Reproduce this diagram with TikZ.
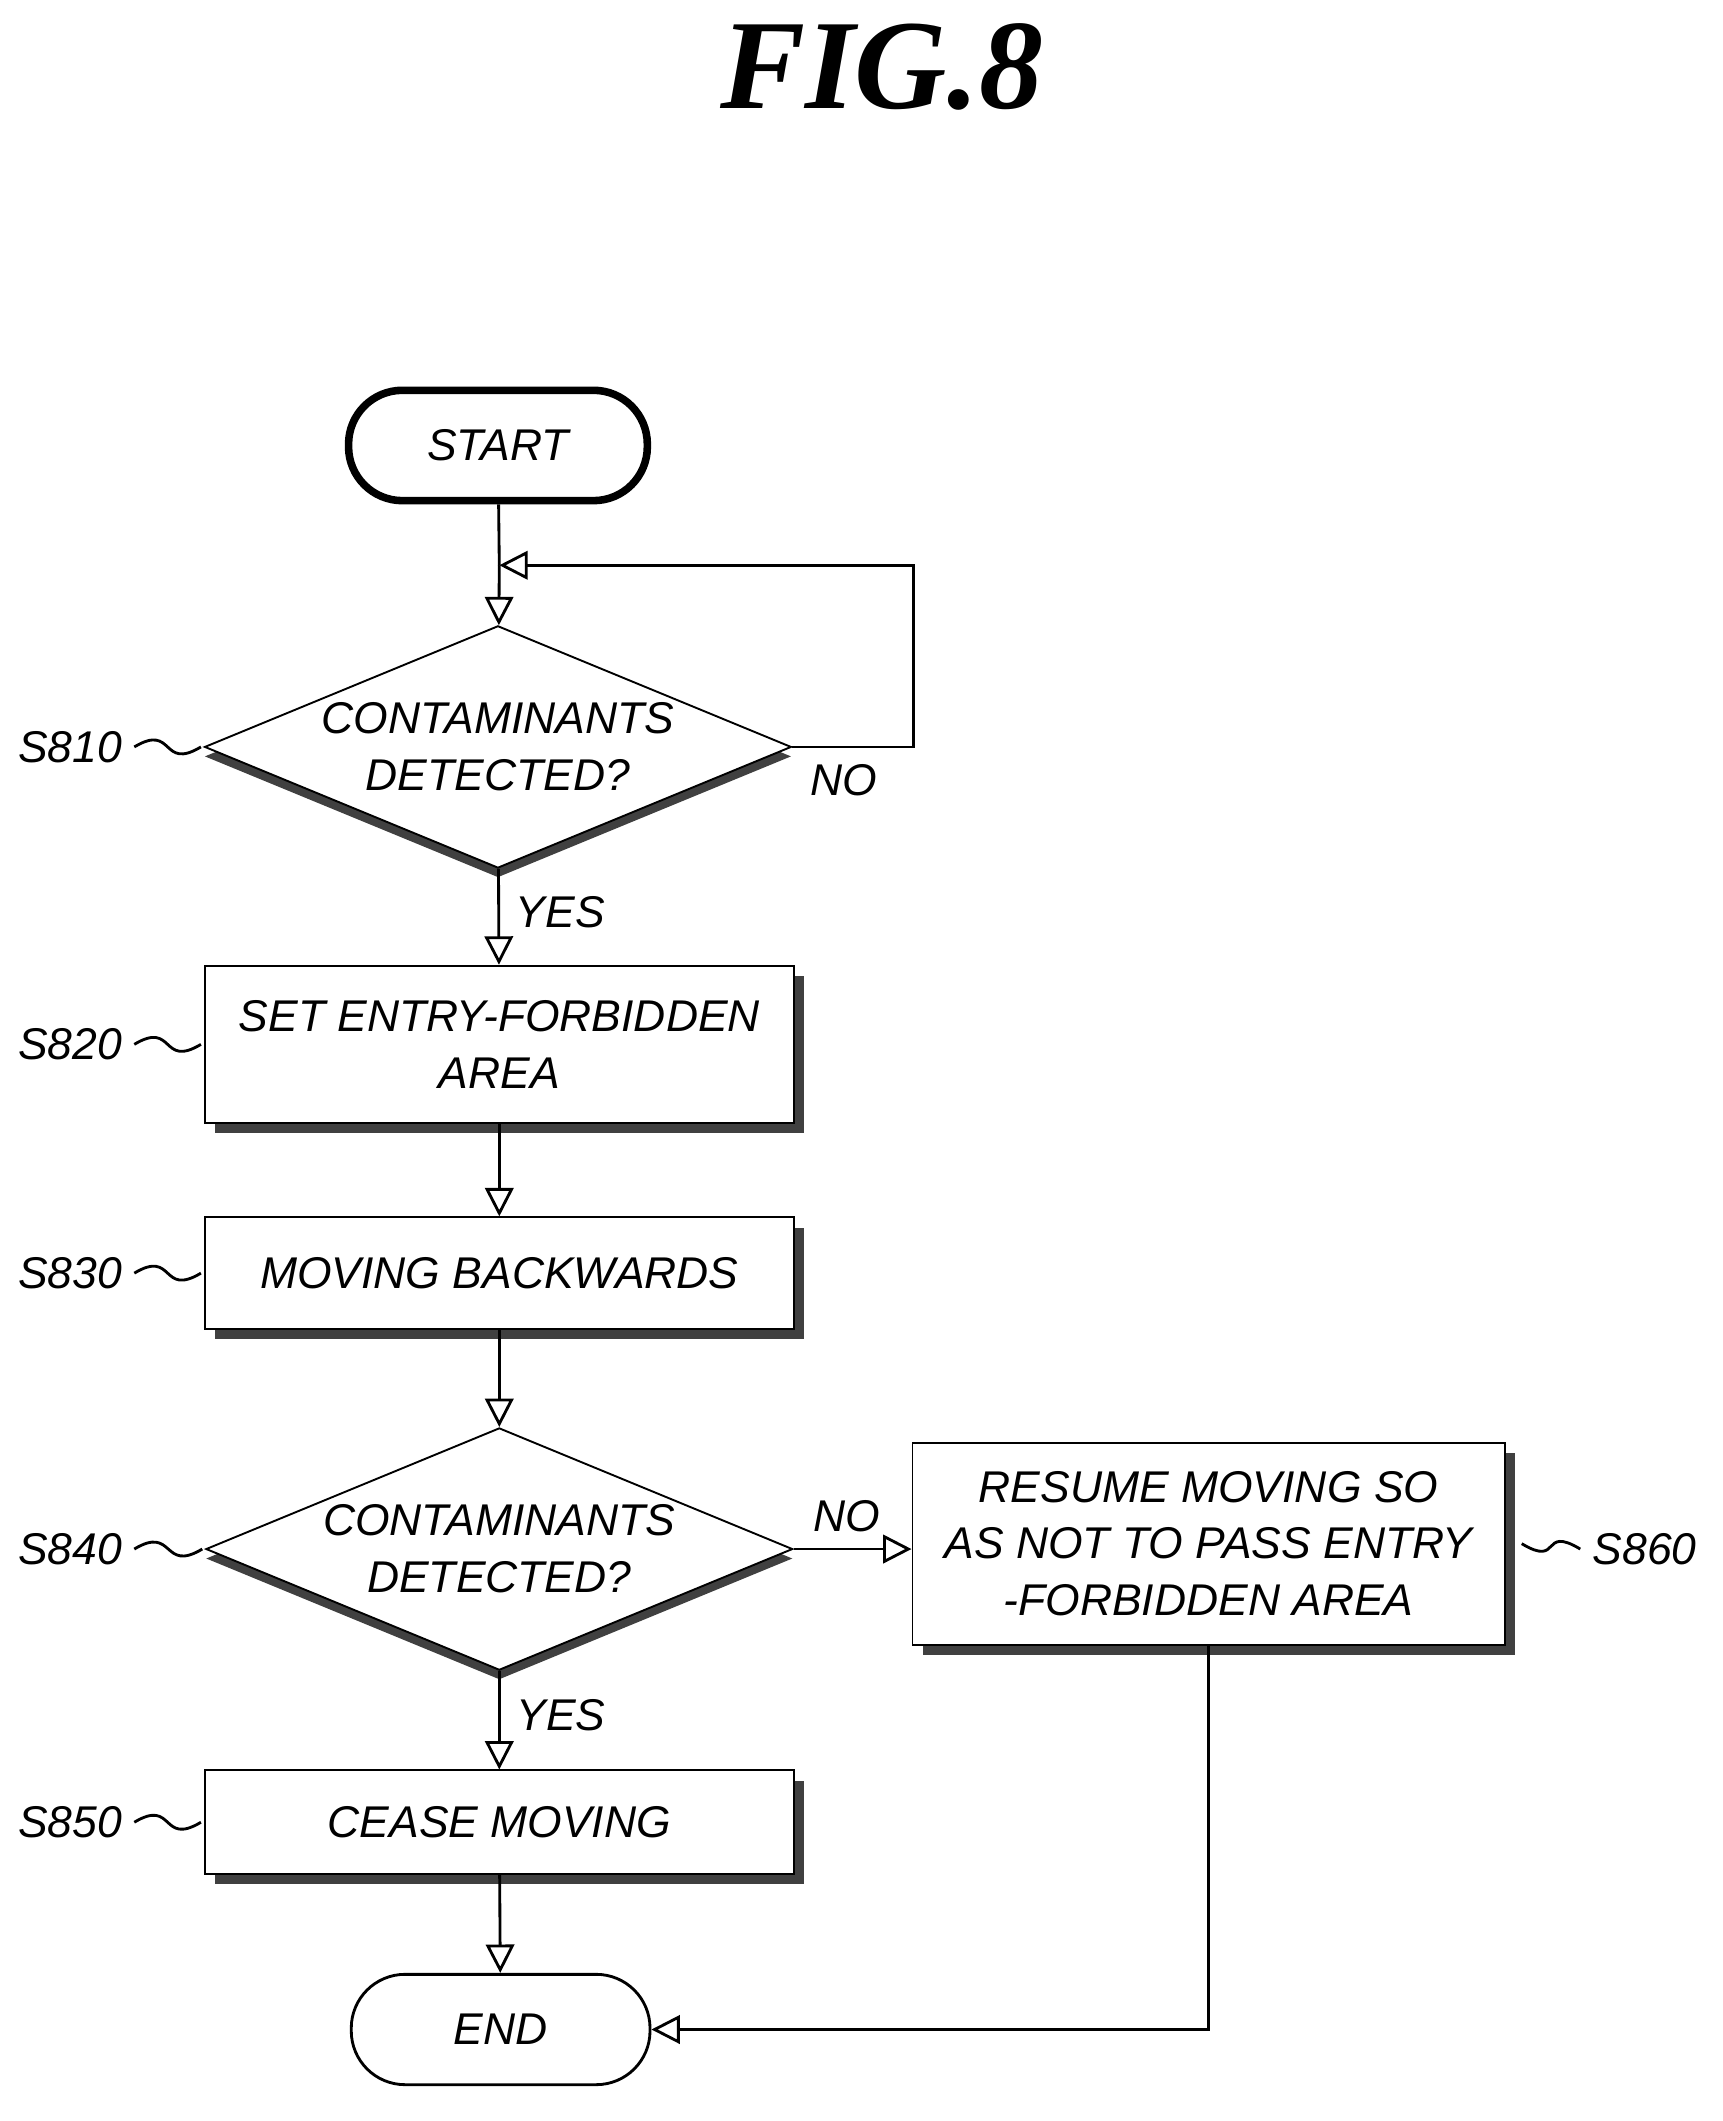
\documentclass[tikz,border=0pt]{standalone}
\usepackage{fontspec}
\setmainfont{Liberation Sans}
\newfontfamily\titlefont{Liberation Serif}
\usetikzlibrary{positioning,shapes.geometric,arrows.meta,shadows}
\tikzstyle{startstop} = [rectangle, rounded corners=0.4cm, minimum width=2.22cm, minimum height=0.82cm, text centered, draw=black, line width=1.6pt, font=\itshape\fontsize{9.4}{12}\selectfont]
\tikzstyle{process} = [rectangle, minimum width=4.38cm, text centered, align=center, draw=black, fill=white, font=\itshape\fontsize{9.4}{12}\selectfont,
    drop shadow={shadow xshift=2.2pt, shadow yshift=-2.2pt, fill=black!75, opacity=1}]
\tikzstyle{decision} = [diamond, minimum width=4.36cm, minimum height=1.8cm, inner sep=0pt, draw=black, fill=white,
    label={[align=center, font=\itshape\fontsize{9.4}{12}\selectfont]center:#1},
    drop shadow={shadow xshift=0pt, shadow yshift=-2pt, fill=black!75, opacity=1}]
\tikzstyle{steptag} = [font=\itshape\fontsize{9.4}{12}\selectfont, inner sep=1pt]
\tikzstyle{answer} = [font=\itshape\fontsize{9.4}{12}\selectfont]
\tikzstyle{arrow} = [semithick, -{Triangle[open, length=6pt, width=6pt]}]
\tikzstyle{wave} = [semithick]

\begin{document}
\begin{tikzpicture}
		\useasboundingbox (0,0) rectangle (12.8,-15.76);

		% Title
		\node (title) at (6.55,-0.50) {\fontsize{27}{32}\selectfont\titlefont\bfseries\itshape FIG.8};

		% Nodes
		\node (start) [startstop] at (3.70,-3.31) {START};
		\coordinate (loop) at (3.71,-4.20);
		\node (s810) [decision={CONTAMINANTS\\DETECTED?}] at (3.70,-5.55) {};
		\node (s820) [process, minimum height=1.17cm] at (3.71,-7.76) {SET ENTRY-FORBIDDEN\\AREA};
		\node (s830) [process, minimum height=0.83cm] at (3.71,-9.46) {MOVING BACKWARDS};
		\node (s840) [decision={CONTAMINANTS\\DETECTED?}] at (3.71,-11.51) {};
		\node (s850) [process, minimum height=0.77cm] at (3.71,-13.54) {CEASE MOVING};
		\node (s860) [process, minimum width=4.40cm, minimum height=1.50cm] at (8.98,-11.47) {RESUME MOVING SO\\AS NOT TO PASS ENTRY\\-FORBIDDEN AREA};
		\node (stop) [startstop, line width=0.6pt] at (3.72,-15.08) {END};

		% Step tags
		\node (t810) [steptag] at (0.52,-5.55) {S810};
		\node (t820) [steptag] at (0.52,-7.76) {S820};
		\node (t830) [steptag] at (0.52,-9.46) {S830};
		\node (t840) [steptag] at (0.52,-11.51) {S840};
		\node (t850) [steptag] at (0.52,-13.54) {S850};
		\node (t860) [steptag] at (12.22,-11.51) {S860};
		\foreach \t/\s in {t810/s810, t820/s820, t830/s830, t840/s840, t850/s850}
			\draw [wave] (\t.east) ++(0.05,0) .. controls +(0.3,0.18) and +(-0.3,-0.18) .. ([xshift=-0.02cm]\s.west);
		\draw [wave] ([xshift=0.12cm]s860.east) .. controls +(0.3,-0.18) and +(-0.3,0.18) .. ([xshift=-0.05cm]t860.west);

		% Arrows
		\draw [semithick] (start) -- (loop);
		\draw [arrow] (loop) -- (s810);
		\draw [arrow] (s810.east) -- ++(0.9,0) |- (loop);
		\node [answer] at (6.27,-5.80) {NO};
		\draw [arrow] (s810) -- node[right, answer, pos=0.45] {YES} (s820);
		\draw [arrow] (s820) -- (s830);
		\draw [arrow] (s830) -- (s840);
		\draw [arrow] (s840.east) -- node[above, answer, pos=0.45] {NO} (s860.west |- s840.east);
		\draw [arrow] (s840) -- node[right, answer, pos=0.45] {YES} (s850);
		\draw [arrow] (s850) -- (stop);
		\draw [arrow] (s860.south) |- (stop.east);
	\end{tikzpicture}
\end{document}
